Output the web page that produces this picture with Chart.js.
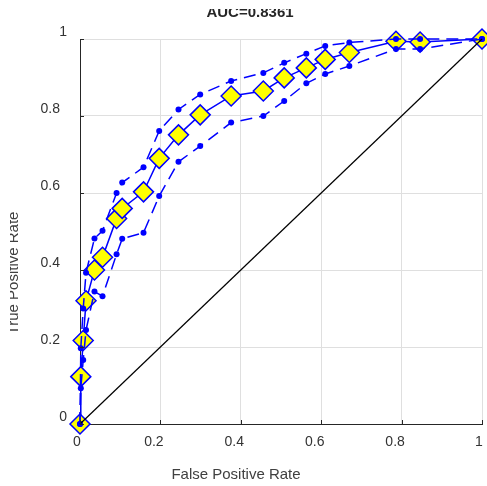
<!DOCTYPE html>
<html>
<head>
<meta charset="utf-8">
<script src="https://cdn.jsdelivr.net/npm/chart.js@4"></script>
<style>
  html, body { margin: 0; padding: 0; background: #fff; }
  #wrap { width: 487px; height: 486px; position: relative; }
</style>
</head>
<body>
<div id="wrap"><canvas id="roc"></canvas></div>
<script>
// mean ROC curve (threshold averaged) with pointwise bounds
var fpr = [0, 0.002, 0.008, 0.015, 0.036, 0.056, 0.091, 0.105, 0.158, 0.197, 0.245,
           0.299, 0.376, 0.456, 0.508, 0.563, 0.610, 0.670, 0.786, 0.846, 1.0];
var tprMean = [0, 0.123, 0.217, 0.320, 0.400, 0.433, 0.534, 0.560, 0.603, 0.690, 0.751,
               0.803, 0.852, 0.865, 0.899, 0.925, 0.947, 0.965, 0.994, 0.992, 1.0];
var tprUpper = [0, 0.197, 0.300, 0.393, 0.482, 0.502, 0.600, 0.627, 0.667, 0.761, 0.817,
                0.856, 0.891, 0.912, 0.938, 0.962, 0.982, 0.991, 1.0, 1.0, 1.0];
var tprLower = [0, 0.093, 0.166, 0.244, 0.344, 0.332, 0.441, 0.481, 0.497, 0.592, 0.681,
                0.722, 0.783, 0.800, 0.839, 0.885, 0.909, 0.930, 0.974, 0.974, 1.0];
var chanceX = [0, 1];
var chanceY = [0, 1];
var tickLabels = ['0', '0.2', '0.4', '0.6', '0.8', '1'];
var aucText = 'AUC=0.8361';

function pts(xs, ys) {
  return xs.map(function(x, i) { return { x: x, y: ys[i] }; });
}

var axisColor = '#262626';
var gridColor = '#dfdfdf';
var blue = '#0000ff';

// MATLAB-like inward ticks plus the clipped title / axis labels
var decor = {
  id: 'decor',
  afterDraw: function(chart) {
    var ctx = chart.ctx;
    var xs = chart.scales.x, ys = chart.scales.y;
    var a = chart.chartArea;
    ctx.save();
    ctx.strokeStyle = axisColor;
    ctx.lineWidth = 1;
    ctx.beginPath();
    tickLabels.forEach(function(t) {
      var v = parseFloat(t);
      var px = Math.round(xs.getPixelForValue(v)) + 0.5;
      ctx.moveTo(px, a.bottom);
      ctx.lineTo(px, a.bottom - 4);
      var py = Math.round(ys.getPixelForValue(v)) + 0.5;
      ctx.moveTo(a.left, py);
      ctx.lineTo(a.left + 4, py);
    });
    ctx.stroke();
    ctx.restore();

    ctx.save();
    ctx.fillStyle = '#262626';
    ctx.textAlign = 'center';
    ctx.textBaseline = 'alphabetic';

    ctx.save();
    ctx.beginPath();
    ctx.rect(0, 9, chart.width, 30);
    ctx.clip();
    ctx.font = 'bold 15px "Liberation Sans", Arial, sans-serif';
    ctx.fillText(aucText, 250, 17);
    ctx.restore();

    ctx.font = '15px "Liberation Sans", Arial, sans-serif';
    ctx.fillStyle = '#404040';
    ctx.fillText('False Positive Rate', 236, 479);

    ctx.save();
    ctx.beginPath();
    ctx.rect(10, 0, 40, chart.height);
    ctx.clip();
    ctx.translate(17.5, 273);
    ctx.rotate(-Math.PI / 2);
    ctx.fillText('True Positive Rate', 0, 0);
    ctx.restore();
    ctx.restore();
  }
};

function tickText(value) {
  var s = tickLabels[Math.round(value * 5)];
  return s && s.length > 1 ? s + '\u2002' : s;
}

new Chart(document.getElementById('roc'), {
  type: 'scatter',
  data: {
    datasets: [{
      label: 'chance',
      data: pts(chanceX, chanceY),
      showLine: true,
      borderColor: '#000000',
      borderWidth: 1.2,
      pointRadius: 0
    }, {
      label: 'lower',
      data: pts(fpr, tprLower),
      showLine: true,
      borderColor: blue,
      borderWidth: 1.5,
      borderDash: [12, 7],
      pointRadius: 3,
      pointBackgroundColor: blue,
      pointBorderColor: blue,
      pointBorderWidth: 0
    }, {
      label: 'upper',
      data: pts(fpr, tprUpper),
      showLine: true,
      borderColor: blue,
      borderWidth: 1.5,
      borderDash: [12, 7],
      pointRadius: 3,
      pointBackgroundColor: blue,
      pointBorderColor: blue,
      pointBorderWidth: 0
    }, {
      label: 'mean',
      data: pts(fpr, tprMean),
      showLine: true,
      borderColor: blue,
      borderWidth: 1.5,
      pointStyle: 'rectRot',
      pointRadius: 10,
      pointBackgroundColor: '#ffff00',
      pointBorderColor: blue,
      pointBorderWidth: 1.5
    }]
  },
  options: {
    responsive: true,
    maintainAspectRatio: false,
    animation: false,
    clip: false,
    layout: {
      autoPadding: false,
      padding: { left: 0, right: 5, top: 39, bottom: 0 }
    },
    plugins: {
      legend: { display: false },
      tooltip: { enabled: false }
    },
    scales: {
      x: {
        type: 'linear',
        min: 0,
        max: 1,
        afterFit: function(s) {
          s.height = 62;
          s.paddingLeft = 0;
          s.paddingRight = 0;
        },
        ticks: {
          stepSize: 0.2,
          padding: 10,
          labelOffset: -3,
          color: '#333',
          font: { family: '"Liberation Sans", Arial, sans-serif', size: 14 },
          callback: tickText,
          maxRotation: 0
        },
        grid: { color: gridColor, drawTicks: false },
        border: { color: axisColor, width: 1 }
      },
      y: {
        type: 'linear',
        min: 0,
        max: 1,
        afterFit: function(s) {
          s.width = 80;
          s.paddingTop = 0;
          s.paddingBottom = 0;
        },
        ticks: {
          stepSize: 0.2,
          padding: 13,
          labelOffset: -7,
          color: '#333',
          font: { family: '"Liberation Sans", Arial, sans-serif', size: 14 },
          callback: tickText
        },
        grid: { color: gridColor, drawTicks: false },
        border: { color: axisColor, width: 1 }
      }
    }
  },
  plugins: [decor]
});
</script>
</body>
</html>
